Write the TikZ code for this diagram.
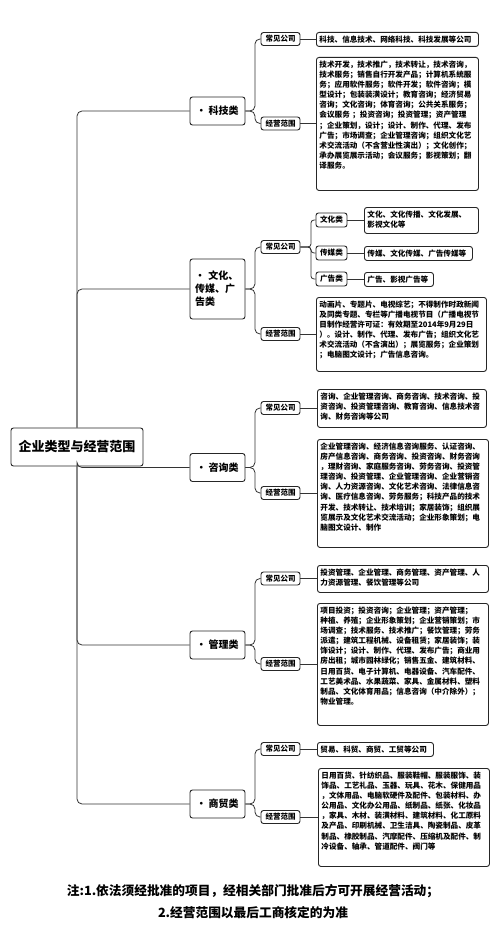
\documentclass[tikz,border=0pt]{standalone}
\usepackage{fontspec}
\setmainfont{Noto Sans CJK SC}
\usepackage{tikz}

\tikzset{
  kuang/.style={draw=black!85, line width=0.9pt, rounded corners=2.5pt, fill=white},
  genjie/.style={kuang, minimum width=132pt, minimum height=38pt, inner sep=0pt, font=\fontsize{13}{15}\selectfont\bfseries},
  leibie/.style={kuang, minimum width=55pt, minimum height=28pt, inner sep=0pt, font=\fontsize{10}{13.5}\selectfont\bfseries},
  xiaoxiang/.style={kuang, minimum width=39pt, minimum height=13pt, inner sep=0pt, font=\fontsize{7.5}{9}\selectfont\bfseries},
  zilei/.style={kuang, minimum width=31pt, minimum height=14pt, inner sep=0pt, font=\fontsize{7.6}{9}\selectfont\bfseries},
  wenben/.style={kuang, anchor=north west, align=left, inner sep=3pt, text height=7pt, font=\fontsize{7.6}{10.1}\selectfont\bfseries},
  lianxian/.style={draw=black!80, line width=0.8pt, rounded corners=5pt},
}

\begin{document}
\begin{tikzpicture}[x=1pt,y=-1pt]

\useasboundingbox[fill=white] (0,0) rectangle (500,942);

%% root

\node[genjie] (root) at (77,447) {企业类型与经营范围};

%% categories

\node[leibie] (kj) at (217.5,111) {• 科技类};
\node[leibie, minimum height=60pt, text width=45pt, align=left, font=\fontsize{10}{13}\selectfont\bfseries] (wh) at (217.5,289) {• 文化、\\传媒、广\\告类};
\node[leibie] (zx) at (217.5,467.5) {• 咨询类};
\node[leibie] (gl) at (217.5,645) {• 管理类};
\node[leibie] (sm) at (217.5,804) {• 商贸类};

%% sub items

\node[xiaoxiang] (kj-cj) at (280.5,39) {常见公司};
\node[xiaoxiang] (kj-fw) at (280.5,123.5) {经营范围};
\node[xiaoxiang] (wh-cj) at (280.5,247) {常见公司};
\node[xiaoxiang] (wh-fw) at (280.5,334) {经营范围};
\node[xiaoxiang] (zx-cj) at (280.5,408) {常见公司};
\node[xiaoxiang] (zx-fw) at (280.5,493) {经营范围};
\node[xiaoxiang] (gl-cj) at (280.5,578.5) {常见公司};
\node[xiaoxiang] (gl-fw) at (280.5,664) {经营范围};
\node[xiaoxiang] (sm-cj) at (280.5,749) {常见公司};
\node[xiaoxiang] (sm-fw) at (280.5,817) {经营范围};

\node[zilei] (wh-whl) at (331.5,220) {文化类};
\node[zilei] (wh-cm) at (331.5,253) {传媒类};
\node[zilei] (wh-gg) at (331.5,279) {广告类};

%% text boxes

\node[wenben, text width=156pt, text depth=1pt] (kj-cjt) at (316,32) {科技、信息技术、网络科技、科技发展等公司};
\node[wenben, text width=156pt, text depth=120pt] (kj-fwt) at (316,57) {技术开发，技术推广，技术转让，技术咨询，\\技术服务；销售自行开发产品；计算机系统服\\务；应用软件服务；软件开发；软件咨询；模\\型设计；包装装潢设计；教育咨询；经济贸易\\咨询；文化咨询；体育咨询；公共关系服务；\\会议服务 ；投资咨询；投资管理；资产管理\\；企业策划，设计；设计、制作、代理、发布\\广告；市场调查；企业管理咨询；组织文化艺\\术交流活动（不含营业性演出）；文化创作；\\承办展览展示活动；会议服务；影视策划；翻\\译服务。};

\node[wenben, text width=108pt, text depth=13pt] (wh-whlt) at (364,207) {文化、文化传播、文化发展、\\影视文化等};
\node[wenben, text width=102pt, text depth=1pt] (wh-cmt) at (364,246) {传媒、文化传媒、广告传媒等};
\node[wenben, text width=63pt, text depth=1pt] (wh-ggt) at (364,272) {广告、影视广告等};
\node[wenben, text width=164pt, text depth=61pt] (wh-fwt) at (316,297) {动画片、专题片、电视综艺；不得制作时政新闻\\及同类专题、专栏等广播电视节目（广播电视节\\目制作经营许可证：有效期至2014年9月29日\\）。设计、制作、代理、发布广告；组织文化艺\\术交流活动（不含演出）；展览服务；企业策划\\；电脑图文设计；广告信息咨询。};

\node[wenben, text width=163pt, text depth=25pt] (zx-cjt) at (317,389) {咨询、企业管理咨询、商务咨询、技术咨询、投\\资咨询、投资管理咨询、教育咨询、信息技术咨\\询、财务咨询等公司};
\node[wenben, text width=165pt, text depth=95pt] (zx-fwt) at (317,439) {企业管理咨询、经济信息咨询服务、认证咨询、\\房产信息咨询、商务咨询、投资咨询、财务咨询\\，理财咨询、家庭服务咨询、劳务咨询、投资管\\理咨询、投资管理、企业管理咨询、企业营销咨\\询、人力资源咨询、文化艺术咨询、法律信息咨\\询、医疗信息咨询、劳务服务；科技产品的技术\\开发、技术转让、技术培训；家居装饰；组织展\\览展示及文化艺术交流活动；企业形象策划；电\\脑图文设计、制作};

\node[wenben, text width=165pt, text depth=14pt] (gl-cjt) at (317,565) {投资管理、企业管理、商务管理、资产管理、人\\力资源管理、餐饮管理等公司};
\node[wenben, text width=165pt, text depth=109pt] (gl-fwt) at (317,603) {项目投资；投资咨询；企业管理；资产管理；\\种植、养殖；企业形象策划；企业营销策划；市\\场调查；技术服务、技术推广；餐饮管理；劳务\\派遣；建筑工程机械、设备租赁；家居装饰；装\\饰设计；设计、制作、代理、发布广告；商业用\\房出租；城市园林绿化；销售五金、建筑材料、\\日用百货、电子计算机、电器设备、汽车配件、\\工艺美术品、水果蔬菜、家具、金属材料、塑料\\制品、文化体育用品；信息咨询（中介除外）；\\物业管理。};

\node[wenben, text width=110pt, text depth=1pt] (sm-cjt) at (317,742) {贸易、科贸、商贸、工贸等公司};
\node[wenben, text width=165pt, text depth=85pt] (sm-fwt) at (318,768) {日用百货、针纺织品、服装鞋帽、服装服饰、装\\饰品、工艺礼品、玉器、玩具、花木、保健用品\\，文体用品、电脑软硬件及配件、包装材料、办\\公用品、文化办公用品、纸制品、纸张、化妆品\\，家具、木材、装潢材料、建筑材料、化工原料\\及产品、印刷机械、卫生洁具、陶瓷制品、皮革\\制品、橡胶制品、汽摩配件、压缩机及配件、制\\冷设备、轴承、管道配件、阀门等};

%% note

\node[font=\fontsize{12.7}{22}\selectfont\bfseries, align=center] (zhu) at (253,902) {注:1.依法须经批准的项目，经相关部门批准后方可开展经营活动；\\2.经营范围以最后工商核定的为准};

%% lines

\foreach \lei in {kj,wh,zx,gl,sm}{
  \draw[lianxian] (root) |- (\lei);
  \draw[lianxian] (\lei.east) -- ++(9.5,0) |- (\lei-cj.west);
  \draw[lianxian] (\lei.east) -- ++(9.5,0) |- (\lei-fw.west);
  \draw[lianxian] (\lei-fw.east) -- (\lei-fw.east -| \lei-fwt.west);
}
\foreach \lei in {kj,zx,gl,sm}{
  \draw[lianxian] (\lei-cj.east) -- (\lei-cj.east -| \lei-cjt.west);
}
\foreach \zi in {whl,cm,gg}{
  \draw[lianxian, rounded corners=3pt] (wh-cj.east) -- ++(10.5,0) |- (wh-\zi.west);
  \draw[lianxian] (wh-\zi.east) -- (wh-\zi.east -| wh-\zi t.west);
}

\end{tikzpicture}
\end{document}
